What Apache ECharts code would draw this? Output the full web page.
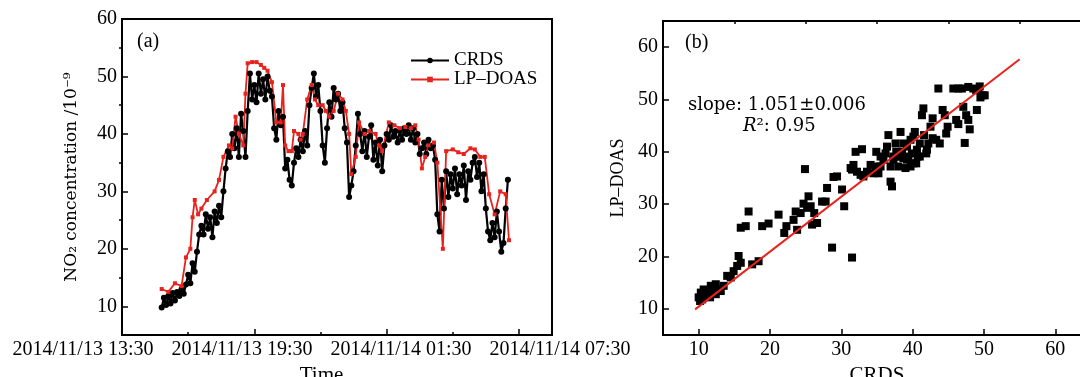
<!DOCTYPE html>
<html>
<head>
<meta charset="utf-8">
<script src="https://cdn.jsdelivr.net/npm/echarts@6/dist/echarts.min.js"></script>
</head>
<body style="margin:0;background:#fff;">
<div id="chart" style="width:1080px;height:377px;"></div>
<script>
// (a) time series, x = hours from the left edge of the axis
var crdsStart = 1.8;      // first CRDS sample
var crdsStep = 0.1;       // CRDS sampling step (h)
var crdsValues = [
    9.8, 11.5, 10.2, 11.8, 10.5, 12.3, 11.0, 12.5,
    11.8, 13.0, 12.2, 13.8, 15.5,
    14.0, 17.5, 16.0, 19.5, 22.5,
    24.0, 22.5, 26.0, 23.5, 25.5,
    22.0, 26.5, 24.5, 27.5, 25.5,
    30.0, 34.0, 37.0, 36.0, 40.0,
    37.5, 41.0, 36.0, 43.5, 40.5,
    36.0, 44.0, 50.5, 46.0, 48.5,
    45.5, 50.5, 47.0, 49.5, 46.0,
    50.0, 47.5, 46.5, 41.0, 39.0,
    44.0, 41.5, 43.0, 34.0, 35.5,
    32.0, 31.0, 35.0, 37.5, 36.0,
    39.0, 37.0, 40.5, 38.0, 45.0,
    48.0, 50.5, 46.5, 48.5, 44.0,
    38.0, 35.0, 41.0, 45.5, 43.0,
    48.0, 46.0, 47.0, 44.0, 45.5,
    41.0, 38.5, 29.0, 31.0, 33.5,
    38.0, 43.5, 40.0, 37.0, 40.5,
    36.0, 39.5, 41.5, 35.5, 38.5,
    34.5, 39.0, 33.5, 38.0, 40.0,
    39.0, 41.5, 39.5, 40.5, 38.5,
    40.5, 39.0, 41.0, 40.0, 41.5,
    39.0, 41.0, 38.5, 40.0, 36.5,
    37.5, 38.5, 36.5, 39.0, 37.5,
    38.0, 35.5, 26.0, 23.0, 32.0,
    27.0, 33.5, 29.0, 33.0, 30.5,
    34.0, 29.5, 33.0, 31.0, 34.5,
    28.5, 33.5, 32.0, 35.0, 36.0,
    32.5, 35.0, 30.0, 33.0, 27.0,
    23.0, 21.5, 24.5, 22.0, 26.5,
    23.0, 19.5, 21.0, 27.0, 32.0
];
var doasPoints = [
    [1.8, 13], [2.1, 12.5], [2.4, 14], [2.7, 13.5], [2.9, 18.5], [3.1, 20], [3.2, 25.5], [3.3, 28.5],
    [3.45, 26], [3.6, 27], [3.85, 28.5], [4.2, 30], [4.4, 32], [4.6, 36], [4.85, 38], [5.0, 37.5],
    [5.15, 43], [5.3, 40], [5.5, 38], [5.6, 47], [5.7, 52.3], [5.9, 52.5], [6.1, 52.5], [6.3, 52],
    [6.45, 51.5], [6.6, 51], [6.8, 49], [7.0, 42], [7.2, 42], [7.3, 48.5], [7.4, 38], [7.55, 37],
    [7.7, 37], [7.8, 40.5], [8.0, 40], [8.1, 39], [8.2, 40], [8.4, 46], [8.6, 48.5], [8.75, 46],
    [8.9, 45], [9.1, 45], [9.25, 44], [9.4, 43], [9.6, 44], [9.8, 47], [10.0, 46], [10.15, 44],
    [10.3, 40], [10.4, 33], [10.6, 36], [10.75, 42], [11.0, 40], [11.2, 40.5], [11.5, 40], [11.65, 38],
    [11.8, 37], [12.1, 42], [12.35, 41.5], [12.6, 41], [12.85, 41.2], [13.1, 41], [13.3, 41.5], [13.45, 39],
    [13.6, 34], [13.75, 36], [13.9, 38], [14.15, 38.5], [14.3, 35], [14.55, 20], [14.7, 37], [15.0, 37.3],
    [15.25, 36.8], [15.5, 36.5], [15.8, 37.5], [16.0, 37.3], [16.25, 36], [16.45, 36], [16.65, 29.5],
    [16.9, 26], [17.15, 30], [17.4, 29.5], [17.55, 21.5]
];
var timeLabels = ['2014/11/13 13:30', '2014/11/13 19:30', '2014/11/14 01:30', '2014/11/14 07:30'];

// (b) scatter CRDS vs LP-DOAS
var scatterPoints = [
    [10.0, 12.2], [10.3, 13.1], [10.5, 11.8], [10.7, 13.7], [11.0, 12.8], [11.2, 12.5], [11.4, 13.4],
    [11.7, 14.4], [11.9, 13.1], [12.1, 14.1], [12.4, 12.8], [12.6, 13.7], [13.1, 13.4], [13.5, 14.4],
    [10.2, 11.5], [10.7, 12.2], [11.1, 13.6], [11.6, 12.2], [12.1, 13.7], [12.4, 14.7],
    [14.0, 16.3], [14.5, 16.0], [14.9, 17.2], [15.4, 18.2], [15.6, 20.1], [15.9, 18.8], [15.9, 25.5],
    [16.6, 25.8], [17.0, 28.6], [17.5, 18.5], [18.4, 19.1], [18.9, 25.8], [19.8, 26.3], [21.2, 28.0],
    [22.0, 24.5], [22.3, 25.8], [23.3, 27.0], [23.6, 28.6], [23.8, 25.1], [24.3, 28.3], [24.7, 30.1],
    [24.9, 36.7], [25.2, 29.3], [25.4, 31.5], [25.7, 29.6], [25.9, 26.1], [26.2, 28.3], [26.6, 26.4],
    [27.3, 30.5], [27.8, 30.5], [28.0, 33.1], [28.7, 21.7], [28.9, 35.2], [29.4, 35.3], [30.1, 32.8],
    [30.4, 29.6], [31.5, 19.8], [31.5, 36.6], [32.0, 40.0], [32.2, 36.2], [32.7, 35.6], [32.9, 40.5],
    [33.1, 35.3], [33.6, 36.2], [34.1, 37.5], [34.5, 35.9], [34.9, 40.0], [35.2, 35.9], [35.5, 39.1],
    [35.9, 38.5], [36.2, 39.7], [36.6, 43.2], [36.9, 34.3], [37.1, 33.4], [36.9, 37.2], [37.3, 38.5],
    [37.6, 41.6], [37.8, 39.1], [38.0, 37.2], [38.3, 43.8], [38.5, 40.0], [38.7, 38.8], [39.0, 36.9],
    [39.2, 41.0], [39.4, 39.1], [39.7, 37.2], [39.9, 39.7], [40.1, 42.9], [40.3, 43.8], [40.5, 37.8],
    [40.7, 39.1], [41.0, 41.6], [41.3, 47.0], [41.5, 48.3], [41.9, 39.7], [42.2, 41.6], [42.5, 44.8],
    [42.8, 46.4], [43.3, 42.3], [43.6, 52.1], [43.8, 41.6], [44.2, 48.0], [44.5, 47.0], [44.7, 43.5],
    [44.9, 44.8], [45.7, 52.1], [46.1, 46.1], [46.4, 45.3], [46.9, 52.1], [47.1, 48.6], [47.3, 41.7],
    [47.5, 47.0], [47.8, 46.1], [48.0, 44.3], [48.5, 52.1], [48.9, 51.8], [49.0, 48.0], [49.2, 51.8],
    [49.5, 50.4], [49.8, 50.8], [50.1, 50.8], [49.4, 52.5], [47.8, 52.4], [46.4, 52.1],
    [36.4, 41.0], [37.3, 39.1], [37.7, 40.0], [39.2, 38.5], [40.1, 37.8], [40.6, 40.4], [41.0, 39.1],
    [41.6, 43.2], [42.0, 40.4], [42.8, 42.6], [39.7, 42.3], [38.7, 41.6], [38.0, 39.1], [34.8, 37.2],
    [35.5, 37.2], [31.7, 37.5], [31.3, 36.9]
];
var fitX = [9.5, 55];
var fitY = [9.9, 57.7];
var majorTicks = [10, 20, 30, 40, 50, 60];
var minorTicks = [15, 25, 35, 45, 55];

var serif = 'Liberation Serif';
var crdsData = crdsValues.map(function (v, i) { return [crdsStart + i * crdsStep, v]; });
var fitData = fitX.map(function (x, i) { return [x, fitY[i]]; });

function mainAxis(grid, min, max, extra) {
    var ax = {
        type: 'value', gridIndex: grid, min: min, max: max,
        axisLine: { show: true, onZero: false, lineStyle: { color: '#000', width: 2 } },
        axisTick: { show: true, inside: true, length: 6, customValues: majorTicks, lineStyle: { color: '#000', width: 1.5 } },
        axisLabel: { customValues: majorTicks, color: '#000', fontFamily: serif, fontSize: 20, margin: 5 },
        splitLine: { show: false }
    };
    for (var k in extra) ax[k] = extra[k];
    return ax;
}
function minorAxis(grid, min, max) {
    return {
        type: 'value', gridIndex: grid, min: min, max: max,
        axisLine: { show: false },
        axisTick: { show: true, inside: true, length: 3, customValues: minorTicks, lineStyle: { color: '#000', width: 1.5 } },
        axisLabel: { show: false },
        splitLine: { show: false }
    };
}

var chart = echarts.init(document.getElementById('chart'));
var option = {
    backgroundColor: '#fff',
    animation: false,
    grid: [
        { left: 122, top: 19, width: 430, height: 316, show: true, borderColor: '#000', borderWidth: 2, outerBoundsMode: 'none' },
        { left: 663, top: 21, width: 428, height: 314, show: true, borderColor: '#000', borderWidth: 2, outerBoundsMode: 'none' },
        { left: 83, top: 19, width: 477, height: 316, show: false, outerBoundsMode: 'none' }     // 时间标签
    ],
    legend: {
        orient: 'vertical', left: 405, top: 46, itemWidth: 38, itemHeight: 7, itemGap: 0,
        textStyle: { fontFamily: serif, fontSize: 19, lineHeight: 18, color: '#000' },
        data: ['CRDS', 'LP–DOAS']
    },
    xAxis: [
        {
            type: 'value', gridIndex: 0, min: 0, max: 19.5, interval: 6,
            axisLine: { show: true, lineStyle: { color: '#000', width: 2 } },
            axisTick: { show: true, inside: true, length: 6, lineStyle: { color: '#000', width: 1.5 } },
            minorTick: { show: true, splitNumber: 2, length: 3, lineStyle: { color: '#000', width: 1.5 } },
            axisLabel: { show: false },
            splitLine: { show: false }
        },
        mainAxis(1, 5, 65, {
            name: 'CRDS', nameLocation: 'middle', nameGap: 24,
            nameTextStyle: { color: '#000', fontFamily: serif, fontSize: 21 }
        }),
        minorAxis(1, 5, 65),
        {
            type: 'category', gridIndex: 2, boundaryGap: false, data: timeLabels,
            axisLine: { show: false }, axisTick: { show: false },
            axisLabel: { interval: 0, color: '#000', fontFamily: serif, fontSize: 20, margin: 5 },
            name: 'Time', nameLocation: 'middle', nameGap: 24,
            nameTextStyle: { color: '#000', fontFamily: serif, fontSize: 21 }
        }
    ],
    yAxis: [
        mainAxis(0, 5, 60, {
            name: 'NO₂ concentration /10⁻⁹', nameLocation: 'middle', nameGap: 42,
            nameTextStyle: { color: '#000', fontFamily: 'DejaVu Serif', fontSize: 17 }
        }),
        minorAxis(0, 5, 60),
        mainAxis(1, 5, 65, {
            name: 'LP–DOAS', nameLocation: 'middle', nameGap: 36,
            nameTextStyle: { color: '#000', fontFamily: serif, fontSize: 18 }
        }),
        minorAxis(1, 5, 65),
        { type: 'value', gridIndex: 2, show: false, min: 0, max: 1 }
    ],
    graphic: [
        { type: 'text', left: 137, top: 32, style: { text: '(a)', fontFamily: serif, fontSize: 20, fill: '#000' } },
        { type: 'text', left: 685, top: 33, style: { text: '(b)', fontFamily: serif, fontSize: 20, fill: '#000' } },
        { type: 'text', left: 688, top: 96, style: { text: 'slope: 1.051±0.006', fontFamily: 'DejaVu Serif', fontSize: 18, fill: '#000' } },
        {
            type: 'text', left: 743, top: 117,
            style: {
                text: '{i|R}²: 0.95', fontFamily: 'DejaVu Serif', fontSize: 18, fill: '#000',
                rich: { i: { fontStyle: 'italic', fontFamily: 'DejaVu Serif', fontSize: 18 } }
            }
        }
    ],
    series: [
        {
            name: 'CRDS', type: 'line', xAxisIndex: 0, yAxisIndex: 0, data: crdsData,
            symbol: 'circle', symbolSize: 6, itemStyle: { color: '#000' },
            lineStyle: { color: '#000', width: 2.2 }
        },
        {
            name: 'LP–DOAS', type: 'line', xAxisIndex: 0, yAxisIndex: 0, data: doasPoints,
            symbol: 'rect', symbolSize: 4, itemStyle: { color: '#e8231e' },
            lineStyle: { color: '#e8231e', width: 1.8 }
        },
        {
            type: 'scatter', xAxisIndex: 1, yAxisIndex: 2, data: scatterPoints,
            symbol: 'rect', symbolSize: 8, itemStyle: { color: '#000', opacity: 1 }
        },
        {
            type: 'line', xAxisIndex: 1, yAxisIndex: 2, data: fitData, symbol: 'none',
            lineStyle: { color: '#e8231e', width: 2 }
        }
    ]
};
chart.setOption(option);
</script>
</body>
</html>
